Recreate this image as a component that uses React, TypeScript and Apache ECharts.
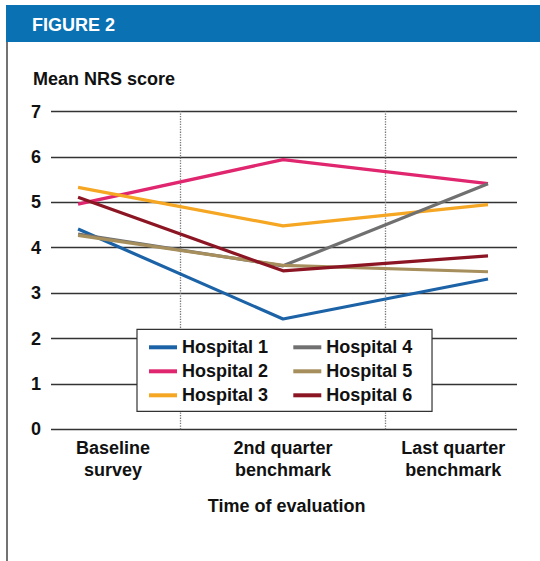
import React, { useEffect, useRef } from "react";
import * as echarts from "echarts";

const categories = ["Baseline\nsurvey", "2nd quarter\nbenchmark", "Last quarter\nbenchmark"];
const yTicks = [0, 1, 2, 3, 4, 5, 6, 7];
const hospitalNames = ["Hospital 1", "Hospital 2", "Hospital 3", "Hospital 4", "Hospital 5", "Hospital 6"];
const hospital1 = [4.41, 2.43, 3.31];
const hospital2 = [4.96, 5.94, 5.41];
const hospital3 = [5.33, 4.48, 4.95];
const hospital4 = [4.3, 3.6, 5.41];
const hospital5 = [4.27, 3.61, 3.47];
const hospital6 = [5.11, 3.49, 3.82];
const hospitalValues = [hospital1, hospital2, hospital3, hospital4, hospital5, hospital6];
const colors = ["#1b62a6", "#e0266f", "#f5a623", "#707070", "#a68f5c", "#8c1524"];

const FONT = "'Liberation Sans', Arial, sans-serif";
const FS = 18;
const LABEL_POS = [0.17, 1, 1.83];

export default function App() {
  const ref = useRef<HTMLDivElement>(null);
  useEffect(() => {
    if (!ref.current) return;
    const chart = echarts.init(ref.current, undefined, { renderer: "svg" });
    const series: any[] = hospitalNames.map((name, i) => ({
      name,
      type: "line",
      symbol: "none",
      lineStyle: { color: colors[i], width: 3.2 },
      itemStyle: { color: colors[i] },
      data: hospitalValues[i].map((v, j) => [j, v]),
      z: 3,
    }));
    series[0].markLine = {
      silent: true,
      symbol: ["none", "none"],
      label: { show: false },
      lineStyle: { type: "dotted", color: "#777", width: 1.3 },
      data: [{ xAxis: 0.5 }, { xAxis: 1.5 }],
      z: 2,
    };
    const legendText = { fontFamily: FONT, fontSize: FS, fontWeight: "bold", color: "#111", lineHeight: 22 };
    const option: any = {
      animation: false,
      backgroundColor: "#fff",
      grid: { left: 51, right: 23, top: 111.5, bottom: 131.7, containLabel: false },
      xAxis: {
        type: "value",
        min: -0.132,
        max: 2.1415,
        axisLine: { show: false },
        axisTick: { show: false },
        splitLine: { show: false },
        axisLabel: {
          customValues: LABEL_POS,
          formatter: (v: number) => {
            const idx = LABEL_POS.findIndex((p) => Math.abs(p - v) < 1e-6);
            return idx >= 0 ? categories[idx] : "";
          },
          margin: 8,
          fontFamily: FONT,
          fontSize: FS,
          lineHeight: 22,
          fontWeight: "bold",
          color: "#111",
        },
      },
      yAxis: {
        type: "value",
        min: yTicks[0],
        max: yTicks[yTicks.length - 1],
        interval: 1,
        axisLine: { show: false },
        axisTick: { show: false },
        splitLine: { show: true, lineStyle: { color: "#333", width: 1.3 } },
        axisLabel: { margin: 10, fontFamily: FONT, fontSize: FS, fontWeight: "bold", color: "#111" },
      },
      legend: [
        {
          data: hospitalNames.slice(0, 3),
          orient: "vertical",
          left: 137,
          top: 329.3,
          padding: [7, 164, 5, 12],
          itemGap: 2,
          itemWidth: 28,
          itemHeight: 4,
          icon: "rect",
          backgroundColor: "#fff",
          borderColor: "#333",
          borderWidth: 1.2,
          textStyle: legendText,
          z: 10,
        },
        {
          data: hospitalNames.slice(3, 6),
          orient: "vertical",
          left: 293.3,
          top: 329.3,
          padding: [7, 0, 5, 0],
          itemGap: 2,
          itemWidth: 28,
          itemHeight: 4,
          icon: "rect",
          textStyle: legendText,
          z: 11,
        },
      ],
      graphic: [
        { type: "rect", shape: { x: 6, y: 5, width: 534, height: 37 }, style: { fill: "#0a71b3" }, z: 1 },
        { type: "line", shape: { x1: 7, y1: 42, x2: 7, y2: 561 }, style: { stroke: "#444", lineWidth: 1.5 }, z: 1 },
        {
          type: "text",
          x: 32,
          y: 24.5,
          style: { text: "FIGURE 2", fill: "#fff", fontFamily: FONT, fontSize: FS, fontWeight: "bold", verticalAlign: "middle", align: "left" },
          z: 2,
        },
        {
          type: "text",
          x: 33,
          y: 79,
          style: { text: "Mean NRS score", fill: "#111", fontFamily: FONT, fontSize: FS, fontWeight: "bold", verticalAlign: "middle", align: "left" },
          z: 2,
        },
        {
          type: "text",
          x: 286.7,
          y: 506,
          style: { text: "Time of evaluation", fill: "#111", fontFamily: FONT, fontSize: FS, fontWeight: "bold", verticalAlign: "middle", align: "center" },
          z: 2,
        },
      ],
      series,
    };
    chart.setOption(option);
    return () => chart.dispose();
  }, []);
  return <div ref={ref} style={{ position: "fixed", left: 0, top: 0, width: 540, height: 561 }} />;
}
